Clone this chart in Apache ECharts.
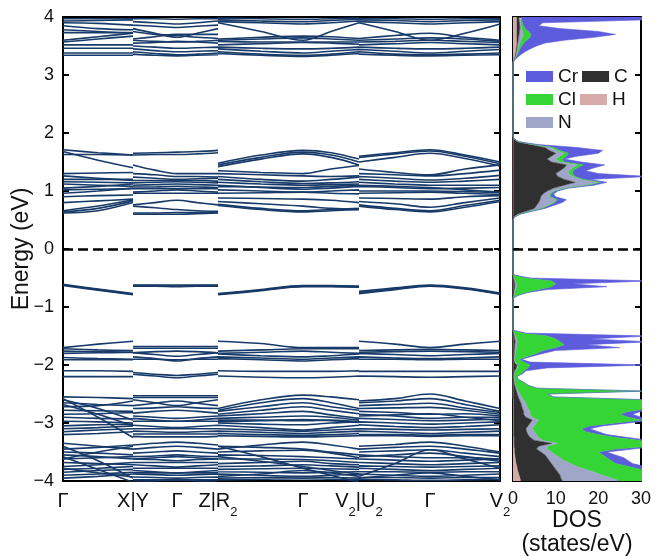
<!DOCTYPE html>
<html><head><meta charset="utf-8">
<script src="https://cdn.jsdelivr.net/npm/echarts@6/dist/echarts.min.js"></script>
<style>html,body{margin:0;padding:0;background:#fff}#c{width:655px;height:556px}</style>
</head><body><div id="c"></div>
<script>
// ---- k-path ----
const kLabels = ['Γ','X|Y','Γ','Z|R₂','Γ','V₂|U₂','Γ','V₂'];
const kTicks = [0,70,114,155,240,296,367,437];
// sample positions of each band value: pieces Γ-X | Y-Γ-Z | R2-Γ-V2 | U2-Γ-V2
const kPos = [0,35,70, 70,92,114,134,155, 155,198,240,268,296, 296,332,367,402,437];
const pieceStarts = [3,8,13];

// ---- bands (eV) ----
const bandsTop = [
[3.97,3.97,3.97, 3.97,3.97,3.96,3.97,3.97, 3.98,3.97,3.96,3.97,3.98, 3.97,3.97,3.96,3.97,3.97],
[3.93,3.94,3.95, 3.92,3.90,3.88,3.90,3.93, 3.95,3.93,3.92,3.94,3.96, 3.95,3.94,3.92,3.94,3.95],
[3.90,3.89,3.86, 3.86,3.84,3.82,3.84,3.86, 3.92,3.90,3.88,3.90,3.93, 3.92,3.90,3.88,3.90,3.92],
[3.85,3.80,3.78, 3.80,3.72,3.65,3.72,3.80, 3.90,3.75,3.60,3.75,3.90, 3.90,3.75,3.60,3.72,3.88],
[3.78,3.75,3.72, 3.75,3.70,3.68,3.65,3.63, 3.62,3.65,3.67,3.66,3.63, 3.63,3.68,3.72,3.65,3.60],
[3.73,3.73,3.73, 3.62,3.66,3.70,3.70,3.70, 3.60,3.62,3.64,3.62,3.60, 3.60,3.62,3.64,3.62,3.58],
[3.60,3.66,3.72, 3.60,3.58,3.57,3.58,3.60, 3.58,3.57,3.57,3.57,3.57, 3.57,3.58,3.60,3.58,3.56],
[3.57,3.62,3.67, 3.55,3.56,3.58,3.57,3.55, 3.52,3.54,3.56,3.55,3.53, 3.52,3.54,3.56,3.54,3.52],
[3.52,3.52,3.52, 3.50,3.48,3.46,3.47,3.48, 3.48,3.46,3.45,3.46,3.48, 3.48,3.46,3.45,3.46,3.48],
[3.46,3.46,3.46, 3.45,3.42,3.40,3.41,3.42, 3.45,3.41,3.38,3.41,3.44, 3.44,3.41,3.38,3.41,3.44],
[3.38,3.38,3.38, 3.40,3.37,3.35,3.36,3.38, 3.40,3.36,3.34,3.36,3.40, 3.40,3.36,3.35,3.36,3.38],
[3.34,3.34,3.34, 3.36,3.34,3.33,3.34,3.35, 3.37,3.34,3.32,3.34,3.37, 3.36,3.34,3.33,3.34,3.35]
];
const bandsCond = [
[1.71,1.66,1.62, 1.65,1.66,1.67,1.68,1.70, 1.48,1.62,1.70,1.66,1.55, 1.60,1.66,1.71,1.62,1.50],
[1.68,1.53,1.40, 1.62,1.63,1.63,1.64,1.66, 1.45,1.58,1.67,1.62,1.50, 1.58,1.64,1.69,1.60,1.47],
[1.63,1.63,1.62, 1.45,1.36,1.30,1.30,1.30, 1.42,1.55,1.64,1.58,1.45, 1.50,1.58,1.65,1.56,1.43],
[1.30,1.31,1.32, 1.30,1.28,1.25,1.25,1.24, 1.35,1.32,1.30,1.38,1.44, 1.38,1.32,1.28,1.38,1.45],
[1.26,1.22,1.18, 1.24,1.22,1.20,1.21,1.22, 1.30,1.28,1.26,1.25,1.26, 1.30,1.28,1.26,1.30,1.36],
[1.20,1.20,1.20, 1.18,1.18,1.18,1.18,1.17, 1.25,1.20,1.17,1.20,1.24, 1.25,1.22,1.19,1.22,1.27],
[1.16,1.15,1.14, 1.14,1.15,1.16,1.15,1.14, 1.20,1.16,1.13,1.14,1.16, 1.20,1.17,1.15,1.17,1.20],
[1.12,1.10,1.08, 1.10,1.11,1.12,1.11,1.10, 1.15,1.12,1.10,1.11,1.12, 1.15,1.12,1.10,1.10,1.10],
[1.05,1.08,1.12, 1.07,1.07,1.08,1.07,1.06, 1.08,1.07,1.06,1.08,1.10, 1.10,1.08,1.06,1.02,0.98],
[1.02,1.03,1.04, 1.04,1.04,1.04,1.04,1.04, 1.10,1.06,1.03,1.05,1.08, 1.08,1.06,1.04,1.05,1.06],
[0.96,1.00,1.05, 0.96,0.96,0.96,0.96,0.96, 1.02,1.00,0.98,1.00,1.02, 1.00,1.00,1.00,0.99,0.97],
[0.90,0.92,0.93, 0.98,1.00,1.02,1.00,0.98, 0.96,0.97,0.98,0.96,0.95, 0.96,0.97,0.98,0.96,0.94],
[0.80,0.83,0.86, 0.76,0.80,0.84,0.80,0.76, 0.88,0.87,0.86,0.84,0.80, 0.88,0.87,0.86,0.90,0.92],
[0.66,0.74,0.85, 0.74,0.71,0.68,0.66,0.65, 0.82,0.78,0.74,0.70,0.68, 0.82,0.78,0.72,0.80,0.88],
[0.64,0.70,0.83, 0.60,0.60,0.60,0.61,0.62, 0.77,0.70,0.66,0.68,0.70, 0.76,0.70,0.66,0.75,0.84],
[0.62,0.66,0.80, 0.62,0.62,0.63,0.63,0.63, 0.75,0.68,0.64,0.66,0.68, 0.74,0.68,0.64,0.72,0.82]
];
const bandsV1 = [
[-0.61,-0.69,-0.77, -0.62,-0.62,-0.62,-0.62,-0.62, -0.77,-0.70,-0.63,-0.63,-0.64, -0.73,-0.67,-0.62,-0.67,-0.76],
[-0.62,-0.70,-0.78, -0.63,-0.63,-0.64,-0.63,-0.63, -0.78,-0.71,-0.64,-0.64,-0.65, -0.75,-0.69,-0.63,-0.68,-0.77],
[-0.63,-0.71,-0.79, -0.64,-0.64,-0.65,-0.64,-0.64, -0.79,-0.72,-0.65,-0.65,-0.66, -0.77,-0.70,-0.64,-0.69,-0.78]
];
const bandsV2 = [
[-1.70,-1.64,-1.59, -1.68,-1.68,-1.68,-1.68,-1.68, -1.59,-1.63,-1.70,-1.70,-1.70, -1.59,-1.64,-1.70,-1.64,-1.59],
[-1.72,-1.74,-1.75, -1.71,-1.71,-1.71,-1.71,-1.71, -1.76,-1.74,-1.72,-1.72,-1.72, -1.75,-1.74,-1.73,-1.74,-1.75],
[-1.76,-1.77,-1.78, -1.79,-1.82,-1.85,-1.82,-1.79, -1.80,-1.78,-1.76,-1.78,-1.80, -1.78,-1.77,-1.76,-1.77,-1.78],
[-1.80,-1.79,-1.78, -1.79,-1.77,-1.76,-1.77,-1.79, -1.81,-1.84,-1.86,-1.84,-1.81, -1.80,-1.82,-1.84,-1.82,-1.80],
[-1.87,-1.89,-1.90, -1.86,-1.89,-1.93,-1.89,-1.86, -1.86,-1.88,-1.90,-1.88,-1.86, -1.86,-1.88,-1.89,-1.88,-1.86],
[-1.91,-1.91,-1.91, -1.90,-1.90,-1.91,-1.90,-1.90, -1.89,-1.91,-1.93,-1.91,-1.89, -1.90,-1.90,-1.91,-1.90,-1.90],
[-2.10,-2.10,-2.11, -2.13,-2.16,-2.18,-2.16,-2.13, -2.10,-2.11,-2.11,-2.11,-2.10, -2.11,-2.11,-2.11,-2.11,-2.11],
[-2.20,-2.20,-2.20, -2.16,-2.19,-2.22,-2.19,-2.16, -2.19,-2.21,-2.22,-2.21,-2.19, -2.19,-2.20,-2.21,-2.20,-2.19]
];
const bandsV3 = [
[-2.55,-2.56,-2.58, -2.53,-2.53,-2.53,-2.53,-2.53, -2.75,-2.60,-2.52,-2.55,-2.60, -2.62,-2.58,-2.50,-2.62,-2.75],
[-2.60,-2.75,-2.95, -2.56,-2.56,-2.56,-2.56,-2.56, -2.78,-2.65,-2.58,-2.65,-2.75, -2.65,-2.62,-2.58,-2.68,-2.80],
[-2.65,-2.68,-2.70, -2.60,-2.65,-2.70,-2.65,-2.60, -2.80,-2.72,-2.65,-2.72,-2.78, -2.70,-2.68,-2.66,-2.74,-2.82],
[-2.72,-2.70,-2.62, -2.70,-2.66,-2.62,-2.66,-2.70, -2.85,-2.78,-2.72,-2.78,-2.84, -2.75,-2.74,-2.73,-2.78,-2.85],
[-2.78,-2.79,-2.80, -2.75,-2.74,-2.72,-2.74,-2.75, -2.88,-2.84,-2.80,-2.86,-2.92, -2.80,-2.82,-2.85,-2.84,-2.88],
[-2.85,-2.84,-2.82, -2.83,-2.80,-2.78,-2.80,-2.83, -2.92,-2.90,-2.88,-2.90,-2.95, -2.85,-2.88,-2.92,-2.90,-2.90],
[-2.90,-2.92,-2.93, -2.92,-2.95,-2.97,-2.95,-2.92, -2.95,-2.95,-2.96,-2.95,-2.98, -2.92,-2.94,-2.96,-2.95,-2.93],
[-2.97,-2.98,-3.00, -2.97,-2.97,-2.97,-2.97,-2.97, -3.00,-3.02,-3.03,-3.00,-2.98, -2.98,-3.00,-3.02,-3.00,-2.98],
[-3.05,-3.03,-3.02, -3.04,-3.06,-3.08,-3.06,-3.04, -3.04,-3.08,-3.12,-3.08,-3.04, -3.03,-3.06,-3.08,-3.06,-3.03],
[-3.10,-3.08,-3.05, -3.10,-3.10,-3.10,-3.10,-3.10, -3.10,-3.12,-3.14,-3.12,-3.10, -3.10,-3.11,-3.12,-3.11,-3.10],
[-3.15,-3.12,-3.10, -3.14,-3.15,-3.16,-3.15,-3.14, -3.14,-3.16,-3.18,-3.16,-3.14, -3.14,-3.16,-3.18,-3.16,-3.14],
[-3.20,-3.18,-3.15, -3.19,-3.19,-3.19,-3.19,-3.19, -3.18,-3.20,-3.21,-3.20,-3.18, -3.20,-3.20,-3.21,-3.20,-3.20],
[-2.58,-2.90,-3.25, -3.23,-3.24,-3.24,-3.24,-3.23, -3.22,-3.23,-3.24,-3.23,-3.22, -3.22,-3.22,-3.23,-3.22,-3.22],
[-2.68,-2.85,-3.05, -2.88,-2.90,-2.92,-2.90,-2.88, -2.98,-2.96,-2.94,-2.96,-2.99, -2.88,-2.86,-2.84,-2.90,-2.96],
[-3.35,-3.40,-3.45, -3.38,-3.35,-3.33,-3.35,-3.38, -3.45,-3.38,-3.33,-3.38,-3.45, -3.40,-3.37,-3.33,-3.40,-3.50],
[-3.45,-3.42,-3.38, -3.45,-3.42,-3.40,-3.42,-3.45, -3.40,-3.42,-3.45,-3.50,-3.55, -3.45,-3.42,-3.40,-3.45,-3.52],
[-3.50,-3.52,-3.55, -3.52,-3.50,-3.48,-3.50,-3.52, -3.50,-3.48,-3.47,-3.52,-3.60, -3.50,-3.48,-3.46,-3.52,-3.58],
[-3.55,-3.58,-3.62, -3.58,-3.57,-3.55,-3.57,-3.58, -3.55,-3.56,-3.58,-3.60,-3.62, -3.55,-3.58,-3.60,-3.60,-3.62],
[-3.62,-3.60,-3.58, -3.62,-3.63,-3.65,-3.63,-3.62, -3.62,-3.62,-3.63,-3.65,-3.68, -3.62,-3.64,-3.66,-3.64,-3.62],
[-3.68,-3.70,-3.72, -3.68,-3.68,-3.68,-3.68,-3.68, -3.70,-3.68,-3.66,-3.70,-3.72, -3.68,-3.70,-3.72,-3.70,-3.68],
[-3.75,-3.72,-3.68, -3.72,-3.74,-3.76,-3.74,-3.72, -3.75,-3.74,-3.72,-3.74,-3.76, -3.74,-3.75,-3.76,-3.75,-3.74],
[-3.80,-3.78,-3.75, -3.78,-3.78,-3.78,-3.78,-3.78, -3.80,-3.79,-3.78,-3.79,-3.80, -3.78,-3.80,-3.82,-3.80,-3.78],
[-3.85,-3.82,-3.80, -3.82,-3.84,-3.86,-3.84,-3.82, -3.84,-3.85,-3.86,-3.85,-3.84, -3.84,-3.84,-3.85,-3.84,-3.84],
[-3.90,-3.88,-3.85, -3.88,-3.89,-3.90,-3.89,-3.88, -3.88,-3.90,-3.92,-3.90,-3.88, -3.88,-3.90,-3.92,-3.90,-3.88],
[-3.95,-3.92,-3.88, -3.93,-3.94,-3.95,-3.94,-3.93, -3.95,-3.94,-3.93,-3.94,-3.95, -3.94,-3.94,-3.95,-3.94,-3.94],
[-3.40,-3.65,-3.95, -3.98,-3.98,-3.98,-3.98,-3.98, -3.98,-3.97,-3.96,-3.97,-3.98, -3.97,-3.98,-3.99,-3.98,-3.97],
[-3.58,-3.80,-4.02, -4.02,-4.00,-3.98,-4.00,-4.02, -3.40,-3.58,-3.78,-3.90,-4.02, -3.92,-3.70,-3.46,-3.62,-3.78],
[-3.62,-3.50,-3.40, -3.62,-3.60,-3.58,-3.60,-3.62, -3.58,-3.66,-3.75,-3.82,-3.88, -3.58,-3.55,-3.52,-3.58,-3.66],
[-3.78,-3.86,-3.93, -3.86,-3.86,-3.86,-3.86,-3.86, -3.92,-3.88,-3.82,-3.86,-3.92, -3.95,-3.90,-3.86,-3.92,-3.98]
];

// ---- DOS (states/eV), energies -4.00 .. 4.00 step 0.05 ----
const dosE = [];
for (let i = 0; i <= 160; i++) dosE.push((-4 + 0.05 * i).toFixed(2));
const hDos = [1.8,1.6,1.4,1.2,1.0,0.9,0.7,0.6,0.5,0.4,
0.3,0.3,0.2,0.2,0.2,0.2,0.1,0.1,0.1,0.1,
0.1,0.1,0.1,0.1,0.1,0.1,0.1,0.1,0.1,0,
0,0,0,0,0,0,0,0,0,0, 0,0,0,0,0,0,0,0,0,0,
0,0,0,0,0,0,0,0,0,0, 0,0,0,0,0,0,0,0,0,0,
0,0,0,0,0,0,0,0,0,0, 0,0,0,0,0,0,0,0,0,0,
0,0,0,0,0,0,0,0,0,0, 0,0,0,0,0,0,0,0,0,0,
0,0,0,0,0,0,0,0,0,0, 0,0,0,0,0,0,0,0,0,0,
0,0,0,0,0,0,0,0,0,0,
0,0,0,0,0,0.1,0.3,0.5,0.6,0.7,
0.8,0.8,0.8,0.8,0.8,0.8,0.8,0.8,0.8,0.8,
0.8];
const cDos = [9.7,9.6,9.6,9.3,9.0,8.6,8.3,7.9,7.5,7.1,
6.2,5.2,5.8,8.8,4.8,3.8,3.4,3.1,2.9,3.4,
3.9,4.4,2.9,2.4,2.4,2.1,1.9,1.7,1.4,1.2,
1.0,0.8,0.6,0.4,0.3,0.2,0.1,0.2,0.4,0.8,
0.8,0.3,0.2,0.2,0.3,0.3,0.4,0.4,0.5,0.4,
0.3,0.1,0,0,0,0,0,0,0,0,
0,0,0,0,0.1,0.2,0.3,0.4,0.4,0.3,
0.1,0,0,0,0,0,0,0,0,0,
0,0,0,0,0,0,0,0,0,0,
0,0.2,1.0,3.0,5.0,5.5,6.0,6.3,6.5,7.0,
8.0,9.5,12,14.5,12,10.5,10,11,12,12.5,
9,8,9,10,8.5,7.5,4,1,0.2,0,
0,0,0,0,0,0,0,0,0,0,
0,0,0,0,0,0,0,0,0,0,
0,0,0,0,0,0,0.1,0.2,0.2,0.2,
0.2,0.3,0.4,0.5,0.6,0.7,0.8,0.8,0.7,0.6,
0.5];
const nDos = [13.5,11.8,10,8.5,7,5.5,4.5,3.5,3,2.5,
2.5,2.5,2,1.5,2,2,2,1.8,1.5,1.5,
1.5,1.5,1.5,1.5,1.5,1.3,1.2,1.2,1.0,0.8,
0.6,0.4,0.3,0.2,0.1,0.1,0.1,0.1,0.1,0.2,
0.3,0.2,0.1,0.2,0.3,0.4,0.4,0.5,0.5,0.4,
0.3,0.1,0,0,0,0,0,0,0,0,
0,0,0,0,0.1,0.2,0.3,0.4,0.4,0.3,
0.1,0,0,0,0,0,0,0,0,0,
0,0,0,0,0,0,0,0,0,0,
0,0.1,0.4,0.8,1.5,2.5,3.5,3.7,2.0,1.5,
1.5,2.5,5,5.5,4,3.5,3,2,2,2.5,
2,2,2,2,1.5,1.5,0.6,0.1,0,0,
0,0,0,0,0,0,0,0,0,0,
0,0,0,0,0,0,0,0,0,0,
0,0,0,0,0,0,0.1,0.1,0.2,0.3,
0.4,0.5,0.7,0.9,1.0,0.8,0.4,0.3,0.3,0.3,
0.3];
const clDos = [11,12,13,13,13,12,10.5,11,11,11,
11,16,24,23.5,23,18,14.5,12,11.5,13,
18.5,24,22.5,21,23,28.5,31.8,30,28.5,7,
6.4,28.8,4.6,2.9,2.1,0.9,0.6,1.7,2.0,2.5,
2.9,2.0,1.2,3.1,4.9,6.3,9.2,11.1,10,9.2,
7.4,1.8,0,0,0,0,0,0,0,0,
0,0,0,0,0.8,2.6,5.4,8.2,9.2,8.4,
2.8,0.3,0,0,0,0,0,0,0,0,
0,0,0,0,0,0,0,0,0,0,
0,0,0.1,0.2,0.3,0.3,0.3,0.4,0.3,0.3,
0.3,0.4,0.5,0.5,0.5,0.5,1,1,1,1.5,
1,1.5,1.5,1,1,0.5,0.2,0.1,0,0,
0,0,0,0,0,0,0,0,0,0,
0,0,0,0,0,0,0,0,0,0,
0,0,0,0,0,0,0.1,0.2,0.3,0.4,
0.6,0.9,1.3,1.8,1.8,1.3,0.8,0.5,0.4,0.3,
0.3];
const crDos = [2,2,2,2,3,4,4,4,4,3,
2,4,2,2,2,3,2,3,2,3,
3,3,3,3,3,2,2,2,1,0.5,
0.3,1,0.2,0.1,0.1,0.1,0.1,0.3,0.5,4.5,
28,1.5,0.5,1.0,1.5,3,15,5,21,8,
24,1,0,0,0,0,0,0,0,0,
0,0,0,0,0.2,0.5,2,13,4,23,
1,0.1,0,0,0,0,0,0,0,0,
0,0,0,0,0,0,0,0,0,0,
0,0.1,0.2,0.5,0.7,1.2,1.7,2.1,1.2,0.7,
0.7,0.6,1.5,1.5,1.5,17.5,6,3,4,5,
4,0.5,2.5,7,10,5.5,1.2,0.2,0.1,0,
0,0,0,0,0,0,0,0,0,0,
0,0,0,0,0,0,0,0,0,0,
0,0,0,0,0,0.2,0.4,0.8,1.5,2.4,
3.5,5,8.8,15,19.8,16.4,8.2,3.6,4.8,28,
32];
const dosNames = ['H','C','N','Cl','Cr'];   // stacking order (left to right)
const legendOrder = ['Cr','C','Cl','H','N'];

// ---- styles ----
const FONT = '"Liberation Sans", Arial, Helvetica, sans-serif';
const BAND_COLOR = '#173a69';
const dosColors = {H:'#d6aaa8', C:'#303030', N:'#a0a6c8', Cl:'#34d534', Cr:'#5c5cdc'};
const dosData = {H:hDos, C:cDos, N:nDos, Cl:clDos, Cr:crDos};

function kLabelRich(lab) {
  const parts = lab.split('₂');
  return parts.map((p, i) => (p ? '{a|' + p + '}' : '') + (i < parts.length - 1 ? '{s|2}' : '')).join('');
}
function yFmt(v) { return v < 0 ? '\u2212' + (-v) : String(v); }

const allBands = [].concat(bandsTop, bandsCond, bandsV1, bandsV2, bandsV3);
const series = allBands.map((b, bi) => {
  const d = [];
  b.forEach((e, i) => {
    if (pieceStarts.includes(i)) d.push([kPos[i], '-']);
    d.push([kPos[i], e]);
  });
  const s = {
    type: 'line', xAxisIndex: 0, yAxisIndex: 0, data: d,
    smooth: 0.35, symbol: 'none', showSymbol: false, connectNulls: false,
    lineStyle: { color: BAND_COLOR, width: 1.6 }, silent: true, z: 2
  };
  if (bi === 0) {
    s.markLine = { silent: true, symbol: 'none', label: { show: false },
      lineStyle: { color: '#000', type: [10, 5], width: 2.5 }, data: [{ yAxis: 0 }] };
  }
  return s;
});
dosNames.forEach(n => {
  series.push({
    name: n, type: 'line', xAxisIndex: 2, yAxisIndex: 4, stack: 'dos',
    data: dosData[n], symbol: 'none', showSymbol: false, smooth: false,
    lineStyle: { width: 0.6, color: dosColors[n] },
    itemStyle: { color: dosColors[n] },
    areaStyle: { color: dosColors[n], opacity: 1 }, silent: true, z: 2
  });
});
series.push({
  type: 'line', xAxisIndex: 2, yAxisIndex: 2, data: [], silent: true,
  markLine: { silent: true, symbol: 'none', label: { show: false },
    lineStyle: { color: '#000', type: [10, 5], width: 2.5 }, data: [{ yAxis: 0 }] }
});

const axLine = { show: true, onZero: false, lineStyle: { color: '#000', width: 2 } };
const inTick = { show: true, inside: true, length: 6, lineStyle: { color: '#000', width: 2 } };
const option = {
  animation: false,
  textStyle: { fontFamily: FONT },
  grid: [
    { left: 63, top: 17, width: 437, height: 464, containLabel: false, outerBoundsMode: 'none' },
    { left: 513, top: 17, width: 128, height: 464, containLabel: false, outerBoundsMode: 'none' }
  ],
  legend: {
    data: legendOrder, left: 521, top: 62, width: 120, itemGap: 4,
    itemWidth: 27, itemHeight: 11, icon: 'rect',
    textStyle: { fontSize: 19, color: '#111', fontFamily: FONT, width: 22 },
    selectedMode: false
  },
  xAxis: [
    { gridIndex: 0, type: 'value', min: 0, max: 437, position: 'bottom',
      axisLine: axLine, axisTick: { show: false }, splitLine: { show: false },
      axisLabel: { customValues: kTicks, margin: 10, color: '#111',
        formatter: v => kLabelRich(kLabels[kTicks.indexOf(v)]),
        rich: { a: { fontSize: 20, color: '#111', fontFamily: FONT, lineHeight: 22, verticalAlign: 'top' },
                s: { fontSize: 13, color: '#111', fontFamily: FONT, lineHeight: 13, padding: [15, 0, 0, 0], verticalAlign: 'top' } } } },
    { gridIndex: 0, type: 'value', min: 0, max: 437, position: 'top',
      axisLine: axLine, axisTick: { show: false }, axisLabel: { show: false }, splitLine: { show: false } },
    { gridIndex: 1, type: 'value', min: 0, max: 30, interval: 10, position: 'bottom',
      axisLine: axLine, axisTick: { show: false }, splitLine: { show: false },
      axisLabel: { fontSize: 18, color: '#111', margin: 9 },
      name: 'DOS\n(states/eV)', nameLocation: 'middle', nameGap: 28, nameMoveOverlap: false,
      nameTextStyle: { fontSize: 23, color: '#111', lineHeight: 24 } },
    { gridIndex: 1, type: 'value', min: 0, max: 30, position: 'top',
      axisLine: axLine, axisTick: { show: false }, axisLabel: { show: false }, splitLine: { show: false } }
  ],
  yAxis: [
    { gridIndex: 0, type: 'value', min: -4, max: 4, interval: 1, position: 'left',
      axisLine: axLine, axisTick: inTick, splitLine: { show: false },
      axisLabel: { fontSize: 18, color: '#111', margin: 9, formatter: yFmt },
      name: 'Energy (eV)', nameLocation: 'middle', nameGap: 30, nameMoveOverlap: false,
      nameTextStyle: { fontSize: 23, color: '#111' } },
    { gridIndex: 0, type: 'value', min: -4, max: 4, interval: 1, position: 'right',
      axisLine: axLine, axisTick: inTick, splitLine: { show: false }, axisLabel: { show: false } },
    { gridIndex: 1, type: 'value', min: -4, max: 4, interval: 1, position: 'left',
      axisLine: axLine, axisTick: inTick, splitLine: { show: false }, axisLabel: { show: false } },
    { gridIndex: 1, type: 'value', min: -4, max: 4, interval: 1, position: 'right',
      axisLine: axLine, axisTick: inTick, splitLine: { show: false }, axisLabel: { show: false } },
    { gridIndex: 1, type: 'category', data: dosE, boundaryGap: false, show: false }
  ],
  series: series
};
const chart = echarts.init(document.getElementById('c'), null, { renderer: 'canvas' });
chart.setOption(option);
</script></body></html>
